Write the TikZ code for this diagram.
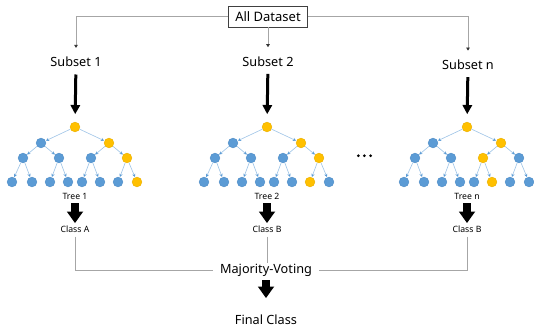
\documentclass[tikz,border=0pt]{standalone}
\usepackage{fontspec}
\setmainfont{Noto Sans}
\usetikzlibrary{arrows.meta}
\definecolor{nblue}{HTML}{5B9BD5}
\definecolor{nbluedk}{HTML}{4F8CC6}
\definecolor{nyel}{HTML}{FFC000}
\definecolor{nyeldk}{HTML}{E8AE00}
\definecolor{eblue}{HTML}{9DC3E6}
\definecolor{glinec}{HTML}{A6A6A6}
\newcommand\mytree[3]{%
  \foreach \k/\dx/\y in {1/0/127,2/-34/143,3/34/143,4/-52/158,5/-16/158,6/16/158,7/52/158,8/-63/182,9/-43/182,10/-25/182,11/-7/182,12/7/182,13/25/182,14/43/182,15/62/182}{%
    \pgfmathtruncatemacro\isy{{#3}[\k-1]}%
    \ifnum\isy=1 \def\fc{nyel}\def\dc{nyeldk}\else\def\fc{nblue}\def\dc{nbluedk}\fi
    \node[tnode,fill=\fc,draw=\dc] (#1n\k) at (#2+\dx,\y) {};
  }
  \foreach \k in {2,...,15}{%
    \pgfmathtruncatemacro\p{\k/2}%
    \draw[tedge] (#1n\p) -- (#1n\k);
  }
}
\begin{document}
\begin{tikzpicture}[x=1pt,y=-1pt,
  tnode/.style={circle,minimum size=9.8pt,inner sep=0pt,line width=0.4pt},
  tedge/.style={draw=eblue,line width=0.6pt,shorten >=0.3pt,-{Stealth[length=3.2pt,width=3.2pt,color=nblue]}},
  big/.style={font=\fontsize{12.7}{14}\selectfont,inner sep=2pt},
  small/.style={font=\fontsize{8.7}{10}\selectfont,inner sep=1pt},
  gl/.style={draw=glinec,line width=0.8pt},
  garr/.style={gl,-{Triangle[length=3pt,width=3.5pt,color=black!80]}},
  blk/.style={line width=3pt,shorten <=12.5pt,shorten >=13pt,-{Triangle[length=9pt,width=10pt,line width=0pt]}},
  fat/.style={line width=8.4pt,-{Triangle[length=11.5pt,width=16.5pt,line width=0pt]}},
]
\useasboundingbox (0,0) rectangle (534,329);

% top
\node[draw=black!75,line width=0.6pt,font=\fontsize{13}{15}\selectfont,minimum width=79pt,minimum height=21pt,inner sep=0pt] (ad) at (268,16.7) {All Dataset};
\node[big] (s1) at (76,62) {Subset 1};
\node[big] (s2) at (268,61.3) {Subset 2};
\node[big] (sn) at (468,64.7) {Subset n};

\draw[garr] (ad.west) -| ([yshift=7pt]s1.north);
\draw[garr] (ad.south) -- ([yshift=7pt]s2.north);
\draw[garr] (ad.east) -| ([yshift=7pt]sn.north);

% trees
\mytree{A}{75}{1,0,1,0,0,0,1,0,0,0,0,0,0,0,1}
\mytree{B}{267}{1,0,1,0,0,0,1,0,0,0,0,0,0,1,0}
\mytree{C}{467}{1,0,1,0,0,1,0,0,0,0,0,0,1,0,0}

\draw[blk] (s1.center) -- (An1.center);
\draw[blk] (s2.center) -- (Bn1.center);
\draw[blk] (sn.center) -- (Cn1.center);

% dots
\fill (358.3,155.7) circle (1.5);
\fill (364.4,155.7) circle (1.5);
\fill (370.6,155.7) circle (1.5);

% tree labels and classes
\node[small] (t1) at (75,196) {Tree 1};
\node[small] (t2) at (267,196) {Tree 2};
\node[small] (tn) at (467,196) {Tree n};
\node[small] (c1) at (75,229) {Class A};
\node[small] (c2) at (267,229) {Class B};
\node[small] (cn) at (467,229) {Class B};

\foreach \a/\b in {t1/c1,t2/c2,tn/cn}
  \draw[fat,shorten <=7pt,shorten >=6pt] (\a.center) -- (\b.center);

% voting
\node[big,inner xsep=7pt,inner ysep=1pt] (mv) at (266,270.2) {Majority-Voting};
\node[big] (fc) at (266,319.3) {Final Class};

\draw[gl,shorten <=3pt] (c1.south) |- (mv.west);
\draw[gl,shorten <=3pt] (cn.south) |- (mv.east);
\draw[gl,shorten <=3pt] (c2.south) -- (c2.south |- mv.north);

\draw[fat,shorten <=9.8pt,shorten >=21.3pt] (mv.center) -- (fc.center);
\end{tikzpicture}
\end{document}
